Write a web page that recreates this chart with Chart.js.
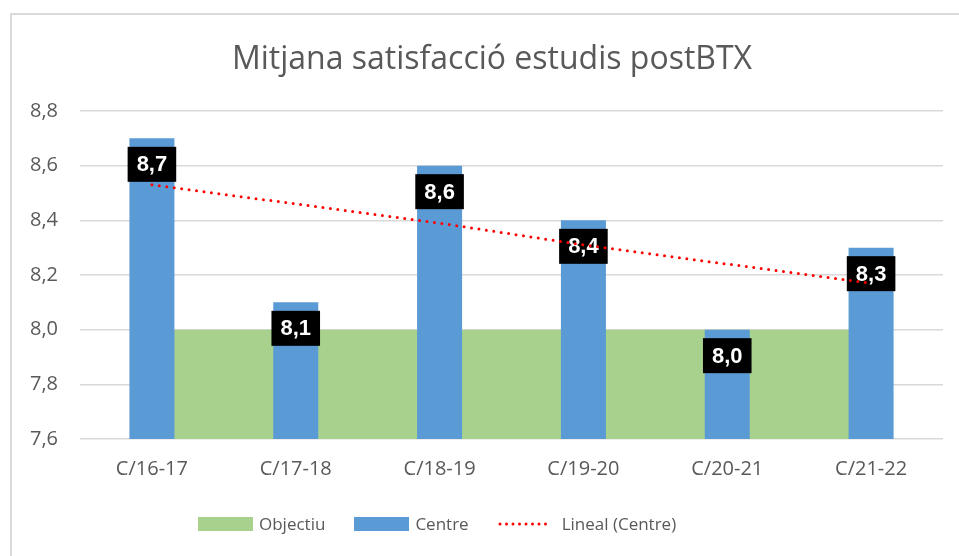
<!DOCTYPE html>
<html>
<head>
<meta charset="utf-8">
<script src="https://cdn.jsdelivr.net/npm/chart.js@4"></script>
<style>
  html,body{margin:0;padding:0;background:#fff;}
  .wrap{position:relative;width:959px;height:556px;overflow:hidden;}
  .llegenda{position:absolute;left:198px;top:515px;display:flex;align-items:center;font-family:"Open Sans",sans-serif;font-size:17px;color:#595959;line-height:18px;}
  .llegenda .item{display:flex;align-items:center;margin-right:29px;}
  .llegenda .caixa{width:55px;height:14px;margin-right:6px;}
  .llegenda svg{margin-right:8px;}
</style>
</head>
<body>
<div class="wrap">
  <canvas id="grafic" width="959" height="556"></canvas>
  <div class="llegenda">
    <div class="item"><span class="caixa" style="background:#a9d18e"></span>Objectiu</div>
    <div class="item"><span class="caixa" style="background:#5b9bd5"></span>Centre</div>
    <div class="item"><svg width="56" height="6"><line x1="2" y1="3" x2="54" y2="3" stroke="#ff0000" stroke-width="3" stroke-linecap="round" stroke-dasharray="0 6.5"/></svg>Lineal (Centre)</div>
  </div>
</div>
<script>
const titol = "Mitjana satisfacció estudis postBTX";
const categories = ["C/16-17", "C/17-18", "C/18-19", "C/19-20", "C/20-21", "C/21-22"];
const objectiu = [8.0, 8.0, 8.0, 8.0, 8.0, 8.0];
const centre = [8.7, 8.1, 8.6, 8.4, 8.0, 8.3];
const linealCentre = [8.53, 8.46, 8.39, 8.31, 8.24, 8.17];
const yTicks = [7.6, 7.8, 8.0, 8.2, 8.4, 8.6, 8.8];

const coma = v => Number(v).toFixed(1).replace(".", ",");

// fons, marc i títol
const marc = {
  id: "marc",
  beforeDraw(chart){
    const ctx = chart.ctx;
    ctx.save();
    ctx.fillStyle = "#fff";
    ctx.fillRect(0, 0, chart.width, chart.height);
    ctx.strokeStyle = "#d9d9d9";
    ctx.lineWidth = 2;
    ctx.strokeRect(11, 14, 990, 600);
    ctx.fillStyle = "#595959";
    ctx.font = "32px 'Open Sans', sans-serif";
    ctx.textAlign = "center";
    ctx.textBaseline = "alphabetic";
    ctx.fillText(titol, 492, 69);
    ctx.restore();
  }
};

// etiquetes negres sobre les barres
const etiquetes = {
  id: "etiquetes",
  afterDatasetDraw(chart, args){
    if(args.meta.type !== "bar") return;
    const ctx = chart.ctx;
    ctx.save();
    ctx.font = "bold 22px 'Liberation Sans', Arial, sans-serif";
    ctx.textAlign = "center";
    ctx.textBaseline = "middle";
    args.meta.data.forEach((bar, i) => {
      const txt = coma(centre[i]);
      const w = ctx.measureText(txt).width + 18, h = 35;
      const cy = bar.y + 26;
      ctx.fillStyle = "#000";
      ctx.fillRect(bar.x - w/2, cy - h/2, w, h);
      ctx.fillStyle = "#fff";
      ctx.fillText(txt, bar.x, cy + 1);
    });
    ctx.restore();
  }
};

new Chart(document.getElementById("grafic"), {
  type: "bar",
  data: {
    labels: categories,
    datasets: [
      { type: "line", label: "Objectiu", data: objectiu, order: 3, fill: "start",
        backgroundColor: "#a9d18e", borderWidth: 0, pointRadius: 0, tension: 0 },
      { type: "bar", label: "Centre", data: centre, order: 2, backgroundColor: "#5b9bd5",
        categoryPercentage: 0.313, barPercentage: 1 },
      { type: "line", label: "Lineal (Centre)", data: linealCentre, order: 1, fill: false,
        borderColor: "#ff0000", borderWidth: 3, borderDash: [0, 7.5], borderCapStyle: "round",
        pointRadius: 0, tension: 0 }
    ]
  },
  options: {
    responsive: false,
    animation: false,
    layout: { padding: { left: 0, right: 16, top: 111, bottom: 67 } },
    plugins: { legend: { display: false }, title: { display: false }, tooltip: { enabled: false } },
    scales: {
      x: {
        grid: { display: false, drawTicks: false },
        border: { display: false },
        ticks: { color: "#595959", font: { family: "'Open Sans', sans-serif", size: 20 }, padding: 18 },
        afterFit: s => { s.height = 50; }
      },
      y: {
        min: 7.6, max: 8.8,
        grid: { color: "#d9d9d9", lineWidth: 1.5, drawTicks: false },
        border: { display: false },
        afterBuildTicks: s => { s.ticks = yTicks.map(v => ({ value: v })); },
        ticks: { color: "#595959", font: { family: "'Open Sans', sans-serif", size: 20 }, padding: 22,
                 callback: v => coma(v) },
        afterFit: s => { s.width = 80; }
      }
    }
  },
  plugins: [marc, etiquetes]
});
</script>
</body>
</html>
